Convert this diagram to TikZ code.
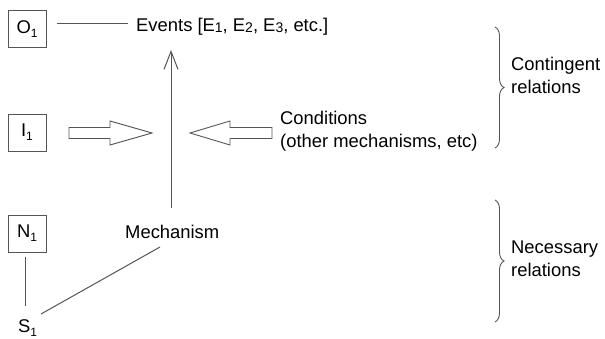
\documentclass[tikz,border=0pt]{standalone}
\usepackage{fontspec}
\setmainfont{Liberation Sans}
\usetikzlibrary{decorations.pathreplacing,arrows.meta}
\definecolor{ln}{RGB}{85,85,85}
\newcommand\smdig[1]{\raisebox{-0.6pt}{\fontsize{14}{14}\selectfont #1}}
\newcommand\subone{\raisebox{-4pt}{\fontsize{12}{12}\selectfont 1}}
\begin{document}
\begin{tikzpicture}[x=1pt,y=-1pt,
  every node/.style={font=\fontsize{18.4}{22.5}\selectfont, inner sep=0pt},
  box/.style={draw=ln, line width=0.9pt, minimum width=38pt, minimum height=37pt},
  txt/.style={anchor=base west},
  conn/.style={draw=ln, line width=1pt},
  hollow/.style={draw=ln, line width=0.9pt, fill=white},
  brc/.style={draw=ln, line width=0.9pt, decorate, decoration={brace, amplitude=9pt}},
  up/.style={conn, -{Straight Barb[length=18pt,width=14pt,line width=1pt]}}]
\path[use as bounding box] (0,0) rectangle (605,339);

% boxes
\node[box] (o1) at (27,29) {O\subone};
\node[box] (i1) at (27,132.5) {I\subone};
\node[box] (n1) at (27,233.5) {N\subone};

% texts
\node[txt] (evt) at (136,31.7) {Events [E\smdig{1}, E\smdig{2}, E\smdig{3}, etc.]};
\node[txt] (mech) at (125,238) {Mechanism};
\node[txt] (s1) at (18,332) {S\subone};
\node[txt, align=left, anchor=north west] (cond) at (280,111) {Conditions\\(other mechanisms, etc)};
\node[txt, align=left, anchor=north west] (cont) at (511,57) {Contingent\\relations};
\node[txt, align=left, anchor=north west] (nec) at (511,241) {Necessary\\relations};

% connectors
\coordinate (oa) at (57,24);
\coordinate (ob) at (128,24);
\draw[conn] (oa) -- (ob);
\coordinate (vb) at (171,208);
\coordinate (vt) at (171,50);
\draw[up] (vb) -- (vt);
\coordinate (na) at (25,257);
\coordinate (nb) at (25,306);
\draw[conn] (na) -- (nb);
\coordinate (sa) at (41,314);
\coordinate (sb) at (160,247);
\draw[conn] (sa) -- (sb);

% hollow arrows
\draw[hollow] (69,127.5) -- (110,127.5) -- (110,121) -- (152,133) -- (110,145) -- (110,138.5) -- (69,138.5) -- cycle;
\draw[hollow] (272,127.5) -- (230,127.5) -- (230,121) -- (190,133) -- (230,145) -- (230,138.5) -- (272,138.5) -- cycle;

% braces
\draw[brc] (495,27) -- (495,148);
\draw[brc] (495,200) -- (495,322);
\end{tikzpicture}
\end{document}
